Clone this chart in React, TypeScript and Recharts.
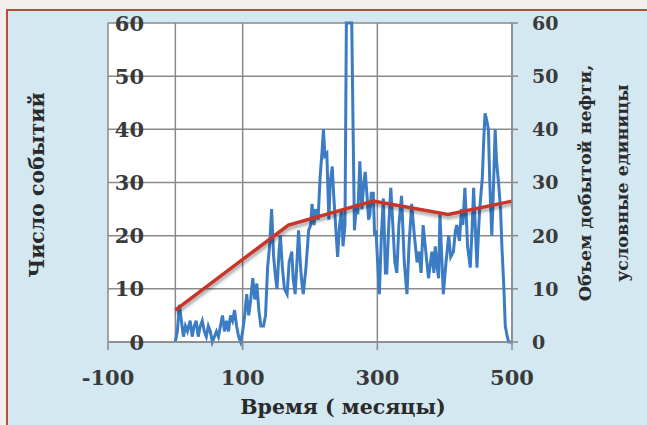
import React from 'react';
import { LineChart, Line, XAxis, YAxis, CartesianGrid, ReferenceLine } from 'recharts';

// Blue series: number of events by month
const eventMonths = [
  0, 3, 6, 9, 12, 15, 18, 22, 25, 28, 31, 34, 37, 40, 43, 46, 49, 52, 55, 58,
  61, 64, 67, 70, 73, 76, 79, 82, 85, 88, 91, 94, 97, 100, 103, 106, 109, 112, 115, 118,
  121, 124, 127, 131, 134, 137, 140, 143, 146, 149, 151, 154, 156, 159, 162, 166, 169, 173, 175, 178,
  181, 183, 186, 188, 190, 194, 198, 201, 203, 206, 208, 212, 215, 218, 220, 222, 225, 228, 230, 233,
  235, 237, 239, 241, 244, 247, 249, 252, 254, 258, 262, 264, 266, 269, 271, 274, 277, 280, 282, 285,
  287, 289, 291, 294, 296, 298, 300, 303, 306, 309, 312, 314, 317, 320, 323, 326, 329, 332, 336, 340,
  344, 347, 351, 355, 359, 362, 365, 368, 372, 376, 378, 381, 384, 386, 389, 391, 393, 396, 398, 402,
  406, 409, 413, 416, 418, 422, 425, 427, 430, 432, 434, 436, 438, 441, 443, 446, 448, 450, 452, 454,
  456, 458, 460, 462, 465, 467, 470, 472, 475, 477, 480, 483, 485, 488, 490, 493, 495, 500,
];
const eventCounts = [
  0, 2, 7, 4, 1, 3, 2, 4, 1, 3, 4, 1, 3, 4, 2, 1, 3, 2, 0, 1,
  2, 1, 3, 5, 2, 4, 2, 5, 4, 6, 3, 1, 0, 2, 5, 9, 5, 8, 12, 8,
  11, 6, 3, 3, 5, 14, 18, 25, 16, 12, 10, 17, 20, 14, 10, 9, 15, 17, 12, 9,
  16, 21, 14, 11, 9, 14, 21, 22, 26, 22, 25, 23, 31, 36, 40, 35, 35.5, 23, 30, 33,
  28, 24, 20, 16, 22, 25, 18, 22, 60, 60, 60, 40, 21, 26, 24, 34, 25, 30, 32, 27,
  23, 24, 28, 28, 20, 21, 16, 9, 20, 27, 13, 13, 22, 29, 22, 15, 13, 22, 27.5, 15,
  9, 18, 26, 20, 15, 17, 13, 22, 17, 12, 14, 17, 13, 18, 14, 12, 24, 15, 9, 15,
  20, 16, 17, 21, 22, 19, 25, 22, 29, 24, 18, 16, 14, 22, 29, 20, 14, 20, 25, 28,
  31, 38, 43, 42, 40, 30, 20, 27, 40, 34, 30, 25, 18, 10, 3, 1, 0, 0,
];

// Red series: oil production volume (conventional units)
const oilMonths = [0, 168, 294, 405, 500];
const oilVolume = [6, 22, 26.5, 24, 26.5];

const xTicks = [-100, 100, 300, 500];
const yTicks = [0, 10, 20, 30, 40, 50, 60];

const eventData = eventMonths.map((t, i) => ({ t, v: eventCounts[i] }));
const oilData = oilMonths.map((t, i) => ({ t, o: oilVolume[i] }));

const FONT = '"DejaVu Serif", serif';
const TICK_COLOR = '#3a3a3a';

const XTick = (props: any) => {
  const { x, y, payload } = props;
  return (
    <text x={x} y={y + 33} textAnchor="middle" fontFamily={FONT} fontWeight="bold" fontSize={21} fill={TICK_COLOR}>
      {payload.value}
    </text>
  );
};

const LeftTick = (props: any) => {
  const { x, y, payload } = props;
  return (
    <text x={x + 42} y={y} dy="0.36em" textAnchor="end" fontFamily={FONT} fontWeight="bold" fontSize={21} fill={TICK_COLOR}>
      {payload.value}
    </text>
  );
};

const RightTick = (props: any) => {
  const { x, y, payload } = props;
  return (
    <text x={x + 14} y={y} dy="0.36em" textAnchor="start" fontFamily={FONT} fontWeight="bold" fontSize={19} fill={TICK_COLOR}>
      {payload.value}
    </text>
  );
};

export default function App() {
  return (
    <div style={{ position: 'relative', width: 647, height: 425, background: '#f1eeec', overflow: 'hidden' }}>
      <style>{`body{margin:0} .oil-line path{filter:drop-shadow(1px 3px 1.5px rgba(0,0,0,0.35));}`}</style>
      <div
        style={{
          position: 'absolute',
          left: 6,
          top: 9,
          right: 0,
          bottom: 0,
          background: '#d3e8f0',
          borderTop: '2px solid #b5503c',
          borderLeft: '2px solid #b5503c',
        }}
      />
      <div style={{ position: 'absolute', left: 0, top: 0 }}>
        <LineChart width={647} height={425} margin={{ top: 23, right: 0, bottom: 0, left: 0 }}>
          <CartesianGrid
            xAxisId="x"
            yAxisId="left"
            fill="#ffffff"
            fillOpacity={1}
            stroke="#8a8a8a"
            strokeWidth={1.5}
          />
          <XAxis
            xAxisId="x"
            dataKey="t"
            type="number"
            domain={[-100, 500]}
            ticks={xTicks}
            allowDataOverflow
            height={83}
            tickSize={8}
            tickLine={{ stroke: '#8a8a8a', strokeWidth: 1.5 }}
            axisLine={{ stroke: '#8a8a8a', strokeWidth: 1.5 }}
            tick={<XTick />}
          />
          <YAxis
            yAxisId="left"
            domain={[0, 60]}
            ticks={yTicks}
            width={108}
            axisLine={false}
            tickLine={false}
            tickMargin={0}
            tick={<LeftTick />}
          />
          <YAxis
            yAxisId="right"
            orientation="right"
            domain={[0, 60]}
            ticks={yTicks}
            width={135}
            tickSize={6}
            tickMargin={0}
            tickLine={{ stroke: '#8a8a8a', strokeWidth: 1.5 }}
            axisLine={{ stroke: '#8a8a8a', strokeWidth: 1.5 }}
            tick={<RightTick />}
          />
          <ReferenceLine xAxisId="x" yAxisId="left" x={0} stroke="#8a8a8a" strokeWidth={1.5} />
          <Line
            xAxisId="x"
            yAxisId="left"
            data={eventData}
            dataKey="v"
            type="linear"
            stroke="#3b7cc4"
            strokeWidth={3}
            dot={false}
            isAnimationActive={false}
          />
          <Line
            xAxisId="x"
            yAxisId="right"
            data={oilData}
            dataKey="o"
            type="linear"
            stroke="#c9342b"
            strokeWidth={3.5}
            dot={false}
            className="oil-line"
            isAnimationActive={false}
          />
        </LineChart>
      </div>
      <svg width={647} height={425} style={{ position: 'absolute', left: 0, top: 0, pointerEvents: 'none' }}>
        <text
          x={37}
          y={185}
          transform="rotate(-90 37 185)"
          textAnchor="middle"
          dominantBaseline="central"
          fontFamily={FONT}
          fontWeight="bold"
          fontSize={20.5}
          fill="#2a2a2a"
        >
          Число событий
        </text>
        <text
          x={585}
          y={183}
          transform="rotate(-90 585 183)"
          textAnchor="middle"
          dominantBaseline="central"
          fontFamily={FONT}
          fontWeight="bold"
          fontSize={17.5}
          fill="#2a2a2a"
        >
          Объем добытой нефти,
        </text>
        <text
          x={622}
          y={183}
          transform="rotate(-90 622 183)"
          textAnchor="middle"
          dominantBaseline="central"
          fontFamily={FONT}
          fontWeight="bold"
          fontSize={17.5}
          fill="#2a2a2a"
        >
          условные единицы
        </text>
        <text x={343} y={414} textAnchor="middle" fontFamily={FONT} fontWeight="bold" fontSize={20.5} fill="#2a2a2a">
          Время ( месяцы)
        </text>
      </svg>
    </div>
  );
}
